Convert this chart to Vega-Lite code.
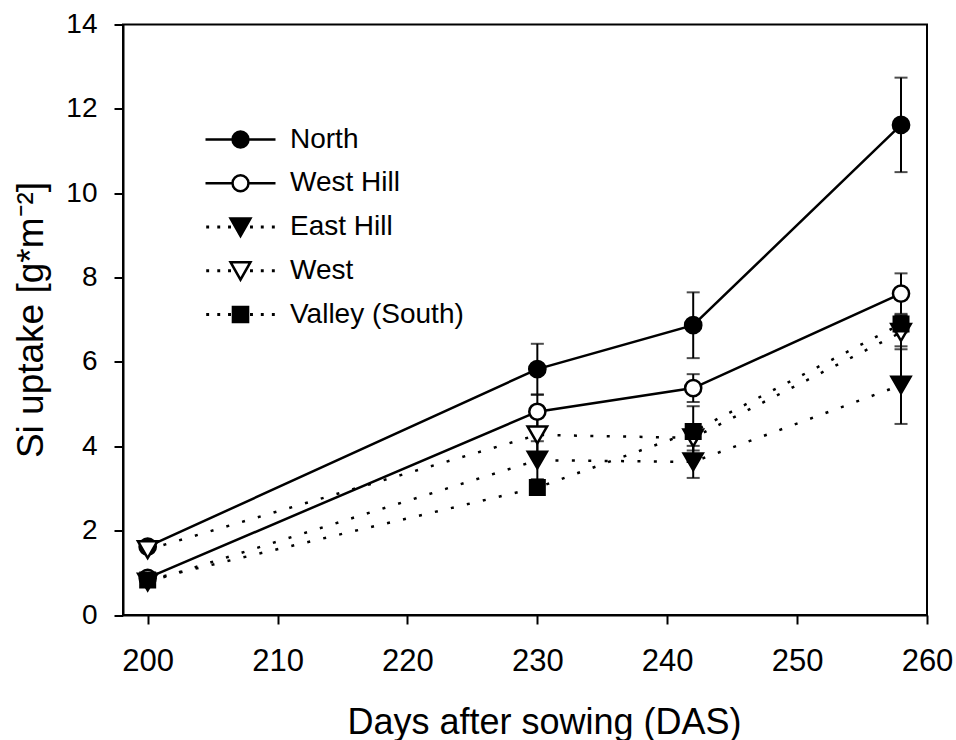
{
  "$schema": "https://vega.github.io/schema/vega-lite/v6.json",
  "width": 804,
  "height": 590.5,
  "autosize": {"type": "none"},
  "padding": {"left": 123, "top": 24.5, "right": 29, "bottom": 125},
  "background": "white",
  "config": {
    "view": {"stroke": "black", "strokeWidth": 2},
    "font": "Liberation Sans",
    "axis": {
      "domainColor": "black", "domainWidth": 2, "tickColor": "black", "tickWidth": 2, "tickSize": 9,
      "grid": false, "labelColor": "black", "titleColor": "black",
      "labelFont": "Liberation Sans", "titleFont": "Liberation Sans",
      "titleFontWeight": "normal", "titleFontSize": 36
    },
    "legend": {
      "orient": "none", "legendX": 102, "legendY": 99.5, "title": null, "padding": 0,
      "symbolSize": 784, "symbolStrokeWidth": 2.5, "symbolStrokeColor": "black", "symbolOpacity": 1,
      "labelFontSize": 28, "labelLimit": 0, "labelFont": "Liberation Sans", "labelColor": "black",
      "labelOffset": 34, "rowPadding": 13.75
    }
  },
  "data": {
    "values": [
      {"site": "North", "das": 200, "si": 1.62, "err": 0.05},
      {"site": "North", "das": 230, "si": 5.83, "err": 0.6},
      {"site": "North", "das": 242, "si": 6.87, "err": 0.78},
      {"site": "North", "das": 258, "si": 11.62, "err": 1.12},
      {"site": "West Hill", "das": 200, "si": 0.88, "err": 0.05},
      {"site": "West Hill", "das": 230, "si": 4.82, "err": 0.4},
      {"site": "West Hill", "das": 242, "si": 5.38, "err": 0.33},
      {"site": "West Hill", "das": 258, "si": 7.62, "err": 0.48},
      {"site": "East Hill", "das": 200, "si": 0.78, "err": 0.05},
      {"site": "East Hill", "das": 230, "si": 3.67, "err": 0.45},
      {"site": "East Hill", "das": 242, "si": 3.63, "err": 0.38},
      {"site": "East Hill", "das": 258, "si": 5.45, "err": 0.92},
      {"site": "West", "das": 200, "si": 1.55, "err": 0.05},
      {"site": "West", "das": 230, "si": 4.27, "err": 0.42},
      {"site": "West", "das": 242, "si": 4.2, "err": 0.3},
      {"site": "West", "das": 258, "si": 6.7, "err": 0.4},
      {"site": "Valley (South)", "das": 200, "si": 0.83, "err": 0.05},
      {"site": "Valley (South)", "das": 230, "si": 3.02, "err": 0.1},
      {"site": "Valley (South)", "das": 242, "si": 4.35, "err": 0.6},
      {"site": "Valley (South)", "das": 258, "si": 6.9, "err": 0.2}
    ]
  },
  "encoding": {
    "x": {
      "field": "das", "type": "quantitative",
      "scale": {"domain": [198.1, 260], "nice": false, "zero": false},
      "axis": {
        "values": [200, 210, 220, 230, 240, 250, 260],
        "title": "Days after sowing (DAS)",
        "labelFontSize": 31, "labelBaseline": "alphabetic", "labelPadding": 46,
        "labelFlush": false, "labelOverlap": false,
        "titleBaseline": "alphabetic", "titleX": 421, "titleY": 118, "titleAlign": "center"
      }
    },
    "y": {
      "field": "si", "type": "quantitative",
      "scale": {"domain": [0, 14], "nice": false},
      "axis": {
        "values": [0, 2, 4, 6, 8, 10, 12, 14],
        "title": "Si uptake [g*m⁻²]",
        "labelFontSize": 28, "labelPadding": 17, "labelFlush": false, "labelOverlap": false,
        "titleFontSize": 37,
        "titleX": -81, "titleY": 295, "titleBaseline": "alphabetic", "titleAngle": -90, "titleAlign": "center"
      }
    }
  },
  "layer": [
    {
      "mark": {"type": "errorbar", "ticks": true, "size": 13, "thickness": 2, "color": "black"},
      "encoding": {
        "yError": {"field": "err"},
        "detail": {"field": "site", "type": "nominal"}
      }
    },
    {
      "transform": [{"filter": "datum.site === 'North' || datum.site === 'West Hill'"}],
      "mark": {"type": "line", "strokeWidth": 2.5, "color": "black", "strokeCap": "butt"},
      "encoding": {"detail": {"field": "site", "type": "nominal"}}
    },
    {
      "transform": [{"filter": "datum.site !== 'North' && datum.site !== 'West Hill'"}],
      "mark": {"type": "line", "strokeWidth": 2.5, "color": "black", "strokeCap": "butt", "strokeDash": [3, 13.4]},
      "encoding": {"detail": {"field": "site", "type": "nominal"}}
    },
    {
      "transform": [{"filter": "datum.site === 'North'"}],
      "mark": {"type": "point", "shape": "circle", "filled": true, "fill": "black", "stroke": "black", "strokeWidth": 2, "size": 280, "opacity": 1}
    },
    {
      "transform": [{"filter": "datum.site === 'West Hill'"}],
      "mark": {"type": "point", "shape": "circle", "filled": true, "fill": "white", "stroke": "black", "strokeWidth": 2.5, "size": 260, "opacity": 1}
    },
    {
      "transform": [{"filter": "datum.site === 'East Hill'"}],
      "mark": {"type": "point", "shape": "triangle-down", "filled": true, "fill": "black", "stroke": "black", "strokeWidth": 2, "size": 400, "opacity": 1}
    },
    {
      "transform": [{"filter": "datum.site === 'West'"}],
      "mark": {"type": "point", "shape": "triangle-down", "filled": true, "fill": "white", "stroke": "black", "strokeWidth": 2.5, "size": 380, "opacity": 1}
    },
    {
      "transform": [{"filter": "datum.site === 'Valley (South)'"}],
      "mark": {"type": "point", "shape": "square", "filled": true, "fill": "black", "stroke": "black", "strokeWidth": 2, "size": 225, "opacity": 1}
    },
    {
      "transform": [{"filter": "false"}],
      "mark": {"type": "point", "filled": true, "strokeWidth": 2.5, "opacity": 1},
      "encoding": {
        "shape": {
          "field": "site", "type": "nominal",
          "scale": {
            "domain": ["North", "West Hill", "East Hill", "West", "Valley (South)"],
            "range": [
              "M-2.5,0H-0.57M0.57,0H2.5M-0.57,0A0.57,0.57,0,1,0,0.57,0A0.57,0.57,0,1,0,-0.57,0Z",
              "M-2.5,0H-0.57M0.57,0H2.5M-0.57,0A0.57,0.57,0,1,0,0.57,0A0.57,0.57,0,1,0,-0.57,0Z",
              "M-2.36,-0.015h0.03v0.03h-0.03zM-1.57,-0.015h0.03v0.03h-0.03zM-0.8,-0.015h0.03v0.03h-0.03zM0.77,-0.015h0.03v0.03h-0.03zM1.54,-0.015h0.03v0.03h-0.03zM2.33,-0.015h0.03v0.03h-0.03zM-0.71,-0.61L0.71,-0.61L0,0.64Z",
              "M-2.36,-0.015h0.03v0.03h-0.03zM-1.57,-0.015h0.03v0.03h-0.03zM-0.8,-0.015h0.03v0.03h-0.03zM0.77,-0.015h0.03v0.03h-0.03zM1.54,-0.015h0.03v0.03h-0.03zM2.33,-0.015h0.03v0.03h-0.03zM-0.71,-0.61L0.71,-0.61L0,0.64Z",
              "M-2.36,-0.015h0.03v0.03h-0.03zM-1.57,-0.015h0.03v0.03h-0.03zM-0.8,-0.015h0.03v0.03h-0.03zM0.77,-0.015h0.03v0.03h-0.03zM1.54,-0.015h0.03v0.03h-0.03zM2.33,-0.015h0.03v0.03h-0.03zM-0.54,-0.54h1.08v1.08h-1.08z"
            ]
          },
          "legend": {}
        },
        "fill": {
          "field": "site", "type": "nominal",
          "scale": {
            "domain": ["North", "West Hill", "East Hill", "West", "Valley (South)"],
            "range": ["black", "white", "black", "white", "black"]
          },
          "legend": {}
        },
        "stroke": {
          "field": "site", "type": "nominal",
          "scale": {
            "domain": ["North", "West Hill", "East Hill", "West", "Valley (South)"],
            "range": ["black", "black", "black", "black", "black"]
          },
          "legend": {}
        }
      }
    }
  ]
}
